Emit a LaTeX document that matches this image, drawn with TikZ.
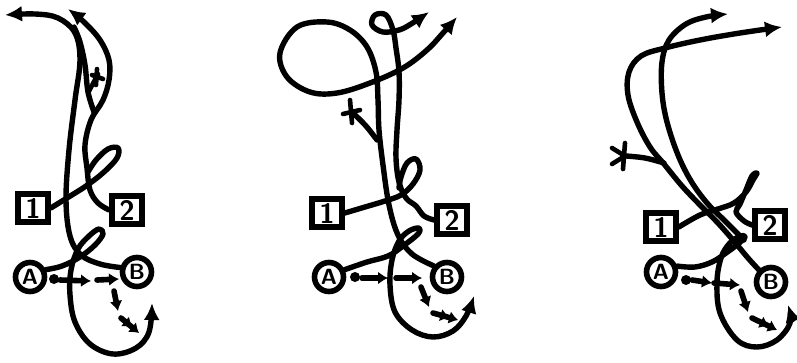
\documentclass[tikz,border=0pt]{standalone}
\usepackage{tikz}
\usetikzlibrary{arrows.meta,calc,positioning}
\tikzset{
    mybox/.style={draw=black,line width=5.6pt,minimum width=30pt,minimum height=28pt,inner sep=0pt,
      font=\sffamily\bfseries\fontsize{28}{28}\selectfont},
    mycirc/.style={circle,draw=black,line width=5.6pt,minimum size=29pt,inner sep=0pt,
      font=\sffamily\bfseries\fontsize{22}{22}\selectfont},
    mystrand/.style={draw=black,line width=5.4pt,line cap=round,line join=round},
    myhead/.style={-{Latex[length=17pt,width=16pt]}},
    mystep/.style={draw=black,line width=5.6pt,line cap=round,-{Latex[length=10pt,width=13pt]}},
    mytwin/.style={draw=black,line width=5.6pt,line cap=round,-{Latex[length=9pt,width=13pt]Latex[length=9pt,width=13pt]}},
    mystar/.style={draw=black,line width=4.6pt,line cap=round}
}
\begin{document}
\begin{tikzpicture}[x=1pt,y=-1pt]
  \useasboundingbox (0,0) rectangle (797,362);

  % left sketch
  \node[mybox]  (one1) at (33,208) {1};
  \node[mybox]  (two1) at (127,210) {2};
  \node[mycirc] (A1)   at (30,277) {A};
  \node[mycirc] (B1)   at (137,272) {B};
  \coordinate (tip1a) at (5,15);
  \coordinate (tip1b) at (68,9);
  \coordinate (tip1c) at (152,303);

  \draw[mystrand,myhead] plot[smooth,tension=0.6] coordinates {(B1.165) (100,264) (81,255) (70,236) (66,200) (69,150) (75,100) (80,60) (75,33) (58,18) (35,14) (tip1a)};
  \draw[mystrand,myhead] plot[smooth,tension=0.6] coordinates {(two1.west) (98,203) (90,190) (87,168) (85,145) (91,120) (103,100) (109,80) (109,60) (100,40) (84,22) (tip1b)};
  \draw[mystrand] plot[smooth,tension=0.6] coordinates {(94,112) (88,92) (85,65) (80,42) (74,27)};
  \draw[mystrand] plot[smooth,tension=0.6] coordinates {(one1.east) (67,198) (86,186) (104,172) (117,158) (118,148) (108,149) (96,160) (88,172)};
  \draw[mystrand,myhead] plot[smooth,tension=0.6] coordinates {(A1.25) (62,266) (80,257) (95,245) (103,234) (99,229) (89,236) (78,249) (71,270) (70,295) (75,322) (90,344) (113,354) (136,348) (149,332) (tip1c)};
  \draw[mystar] (88,93) -- (98,74) (92,75) -- (103,79) (97,69) -- (96,85);

  \foreach \n/\x/\y in {d1/54/279, s1a/60/280, e1a/91/281, s1b/97/280, e1b/119/279,
                        s1c/114/291, e1c/118/311, s1d/121/318, e1d/139/333}{
    \coordinate (\n) at (\x,\y);
  }
  \fill (d1) circle (5pt);
  \foreach \s/\e in {s1a/e1a, s1b/e1b, s1c/e1c}{\draw[mystep] (\s) -- (\e);}
  \draw[mytwin] (s1d) -- (e1d);

  % middle sketch
  \node[mybox]  (one2) at (327,213) {1};
  \node[mybox]  (two2) at (452,220) {2};
  \node[mycirc] (A2)   at (329,277) {A};
  \node[mycirc] (B2)   at (447,277) {B};
  \coordinate (tip2a) at (457,17);
  \coordinate (tip2b) at (429,12);
  \coordinate (tip2c) at (474,296);

  \draw[mystrand,myhead] plot[smooth,tension=0.6] coordinates {(B2.140) (412,254) (398,235) (389,205) (383,165) (379,130) (378,100) (376,72) (367,47) (350,30) (327,22) (297,27) (280,53) (287,77) (310,92) (337,93) (370,83) (403,68) (427,50) (443,33) (tip2a)};
  \draw[mystrand,myhead] plot[smooth,tension=0.6] coordinates {(two2.west) (424,216) (416,206) (406,198) (399,182) (396,158) (397,130) (399,100) (399,72) (396,48) (393,30) (386,15) (375,15) (372,25) (383,32) (399,30) (411,24) (tip2b)};
  \draw[mystrand] plot[smooth,tension=0.6] coordinates {(one2.east) (365,207) (385,201) (401,195) (413,184) (420,170) (416,159) (407,163) (401,177) (399,188)};
  \draw[mystrand,myhead] plot[smooth,tension=0.6] coordinates {(A2.25) (367,262) (388,256) (403,246) (418,234) (419,228) (409,231) (399,241) (392,260) (390,285) (395,312) (412,330) (433,337) (453,331) (466,316) (tip2c)};
  \draw[mystrand] plot[smooth,tension=0.6] coordinates {(377,140) (366,126) (354,114)};
  \draw[mystar] (343,114) -- (360,110) (350,100) -- (352,123);

  \foreach \n/\x/\y in {d2/355/277, s2a/362/278, e2a/388/278, s2b/396/278, e2b/422/278,
                        s2c/421/287, e2c/429/307, s2d/433/313, e2d/458/320}{
    \coordinate (\n) at (\x,\y);
  }
  \fill (d2) circle (5pt);
  \foreach \s/\e in {s2a/e2a, s2b/e2b, s2c/e2c}{\draw[mystep] (\s) -- (\e);}
  \draw[mytwin] (s2d) -- (e2d);

  % right sketch
  \node[mybox]  (one3) at (661,227) {1};
  \node[mybox]  (two3) at (770,225) {2};
  \node[mycirc] (A3)   at (661,272) {A};
  \node[mycirc] (B3)   at (771,282) {B};
  \coordinate (tip3a) at (782,27);
  \coordinate (tip3b) at (728,14);
  \coordinate (tip3c) at (788,305);

  \draw[mystrand,myhead] plot[smooth,tension=0.6] coordinates {(B3.135) (748,258) (733,240) (717,222) (700,205) (682,186) (664,164) (650,147) (637,122) (628,95) (629,72) (641,56) (665,48) (700,40) (740,33) (tip3a)};
  \draw[mystrand,myhead] plot[smooth,tension=0.6] coordinates {(744,240) (724,220) (707,203) (691,181) (678,155) (667,122) (662,93) (662,62) (669,40) (686,24) (706,17) (tip3b)};
  \draw[mystrand] plot[smooth,tension=0.6] coordinates {(one3.east) (700,215) (718,209) (734,203) (746,192) (753,180) (757,173) (752,176) (746,190) (740,204) (736,212) (744,221) (two3.west)};
  \draw[mystrand,myhead] plot[smooth,tension=0.6] coordinates {(A3.20) (695,267) (712,262) (726,253) (738,244) (745,237) (740,236) (729,244) (721,258) (717,282) (720,313) (737,340) (757,347) (777,340) (790,323) (tip3c)};
  \draw[mystrand] plot[smooth,tension=0.6] coordinates {(664,163) (645,158) (626,156)};
  \draw[mystar] (625,143) -- (623,169) (612,148) -- (625,156) (612,164) -- (625,156);

  \foreach \n/\x/\y in {d3/686/280, s3a/692/280, e3a/712/283, s3b/714/283, e3b/740/285,
                        s3c/741/291, e3c/748/312, s3d/752/318, e3d/777/330}{
    \coordinate (\n) at (\x,\y);
  }
  \fill (d3) circle (5pt);
  \foreach \s/\e in {s3a/e3a, s3b/e3b, s3c/e3c}{\draw[mystep] (\s) -- (\e);}
  \draw[mytwin] (s3d) -- (e3d);
\end{tikzpicture}
\end{document}
